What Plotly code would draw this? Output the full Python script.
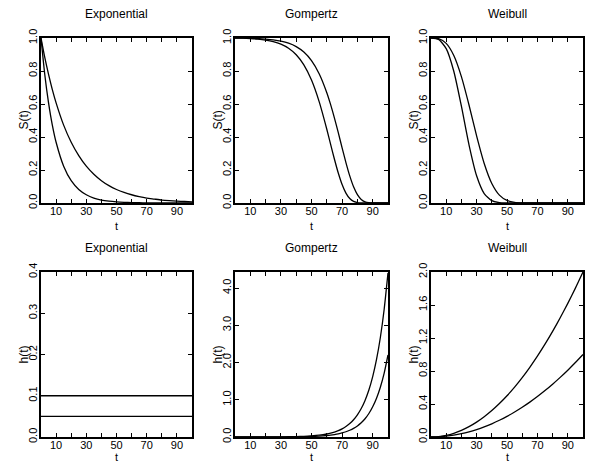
import plotly.graph_objects as go
from plotly.subplots import make_subplots

# ---- data ----
t_exp = [0, 2.5, 5, 7.5, 10, 15, 20, 25, 30, 35, 40, 45, 50, 55, 60, 65, 70, 75, 80, 85, 90, 95, 100]
exp_s_fast = [1, 0.779, 0.607, 0.472, 0.368, 0.223, 0.135, 0.082, 0.050, 0.030, 0.018, 0.011, 0.0067,
              0.0041, 0.0025, 0.0015, 0.0009, 0.0006, 0.0003, 0.0002, 0.0001, 0.0001, 0.0]
exp_s_slow = [1, 0.882, 0.779, 0.687, 0.607, 0.472, 0.368, 0.287, 0.223, 0.174, 0.135, 0.105, 0.082,
              0.064, 0.050, 0.039, 0.030, 0.024, 0.018, 0.014, 0.011, 0.009, 0.007]
t_line = [0, 100]
exp_h_fast = [0.1, 0.1]
exp_h_slow = [0.05, 0.05]

t_gom = [0, 5, 10, 15, 20, 25, 30, 35, 40, 45, 50, 55, 60, 62.5, 65, 67.5, 70, 72.5, 75, 77.5, 80,
         82.5, 85, 87.5, 90, 92.5, 95, 97.5, 100]
gom_s_fast = [1, 0.9987, 0.9966, 0.9931, 0.9873, 0.9779, 0.9625, 0.9378, 0.8983, 0.8369, 0.7447,
              0.6142, 0.4471, 0.3555, 0.2650, 0.1816, 0.1118, 0.0600, 0.0270, 0.0097, 0.0026,
              0.0005, 0.00005, 0.0, 0.0, 0.0, 0.0, 0.0, 0.0]
gom_s_slow = [1, 0.9994, 0.9983, 0.9965, 0.9936, 0.9889, 0.9811, 0.9684, 0.9478, 0.9148, 0.8630,
              0.7837, 0.6687, 0.5963, 0.5148, 0.4261, 0.3344, 0.2449, 0.1641, 0.0982, 0.0508,
              0.0218, 0.0073, 0.0018, 0.0003, 0.0, 0.0, 0.0, 0.0]
gom_h_fast = [0.0002, 0.0003, 0.0005, 0.0009, 0.0015, 0.0024, 0.0040, 0.0066, 0.0109, 0.018, 0.0297,
              0.0489, 0.0807, 0.1036, 0.133, 0.171, 0.219, 0.282, 0.362, 0.464, 0.596,
              0.765, 0.983, 1.262, 1.621, 2.081, 2.672, 3.431, 4.405]
gom_h_slow = [0.0001, 0.0002, 0.0003, 0.0005, 0.0007, 0.0012, 0.0020, 0.0033, 0.0055, 0.0090, 0.0148,
              0.0245, 0.0403, 0.0518, 0.0665, 0.0854, 0.110, 0.141, 0.181, 0.232, 0.298,
              0.383, 0.491, 0.631, 0.810, 1.040, 1.336, 1.715, 2.203]

t_wei = [0, 5, 10, 15, 20, 25, 30, 35, 40, 45, 50, 55, 60, 65, 70, 75, 80, 85, 90, 95, 100]
wei_s_fast = [1, 0.9917, 0.9355, 0.7985, 0.5866, 0.3529, 0.1653, 0.0574, 0.0140, 0.0023, 0.00024,
              0.00002, 0, 0, 0, 0, 0, 0, 0, 0, 0]
wei_s_slow = [1, 0.9958, 0.9672, 0.8936, 0.7659, 0.5941, 0.4066, 0.2395, 0.1185, 0.0480, 0.0155,
              0.0039, 0.00075, 0.0001, 0.00001, 0, 0, 0, 0, 0, 0]
wei_h_fast = [0, 0.005, 0.02, 0.045, 0.08, 0.125, 0.18, 0.245, 0.32, 0.405, 0.5, 0.605, 0.72, 0.845,
              0.98, 1.125, 1.28, 1.445, 1.62, 1.805, 2.0]
wei_h_slow = [0, 0.0025, 0.01, 0.0225, 0.04, 0.0625, 0.09, 0.1225, 0.16, 0.2025, 0.25, 0.3025, 0.36,
              0.4225, 0.49, 0.5625, 0.64, 0.7225, 0.81, 0.9025, 1.0]

titles = ["Exponential", "Gompertz", "Weibull"]
x_ticks = [10, 30, 50, 70, 90]
s_ticks = [0, 0.2, 0.4, 0.6, 0.8, 1.0]
h_exp_ticks = [0, 0.1, 0.2, 0.3, 0.4]
h_gom_ticks = [0, 1, 2, 3, 4]
h_wei_ticks = [0, 0.4, 0.8, 1.2, 1.6, 2.0]

# ---- figure ----
W, H = 591, 464
fig = make_subplots(rows=2, cols=3)

line = dict(color="black", width=1.3)
panels = [
    (1, 1, t_exp, [exp_s_fast, exp_s_slow]),
    (1, 2, t_gom, [gom_s_fast, gom_s_slow]),
    (1, 3, t_wei, [wei_s_fast, wei_s_slow]),
    (2, 1, t_line, [exp_h_fast, exp_h_slow]),
    (2, 2, t_gom, [gom_h_fast, gom_h_slow]),
    (2, 3, t_wei, [wei_h_fast, wei_h_slow]),
]
for r, c, tt, ys in panels:
    for y in ys:
        fig.add_trace(go.Scatter(x=tt, y=y, mode="lines", line=dict(line, shape="spline", smoothing=0.6),
                                 showlegend=False, hoverinfo="skip"), row=r, col=c)

xpix = [(41, 192), (235, 388), (431, 583)]
ypix = [(38, 203), (272, 437)]
fam = "Liberation Sans, Arial, sans-serif"
font = dict(family=fam, size=12, color="black")
tfont = dict(family=fam, size=11, color="black")

yconf = [
    [(s_ticks, [0, 1], ".1f"), (s_ticks, [0, 1], ".1f"), (s_ticks, [0, 1], ".1f")],
    [(h_exp_ticks, [0, 0.4], ".1f"), (h_gom_ticks, [0, 4.43], ".1f"), (h_wei_ticks, [0, 2.0], ".1f")],
]
ytitles = ["S(t)", "h(t)"]

for r in range(2):
    for c in range(3):
        idx = r * 3 + c + 1
        xa = "xaxis" if idx == 1 else f"xaxis{idx}"
        ya = "yaxis" if idx == 1 else f"yaxis{idx}"
        x0, x1 = xpix[c]
        y0, y1 = ypix[r]
        tv, rng, fmt = yconf[r][c]
        fig.layout[xa].update(
            domain=[x0 / W, x1 / W], range=[0, 100], tickvals=x_ticks, ticks="inside", ticklen=4,
            tickwidth=1, tickcolor="black", showline=True, linewidth=2, linecolor="black",
            mirror="allticks", showgrid=False, zeroline=False, automargin=False,
            tickfont=tfont, ticklabelstandoff=-3,
            minor=dict(tickvals=[0, 20, 40, 60, 80, 100], ticks="inside", ticklen=4, tickcolor="black"),
        )
        fig.layout[ya].update(
            domain=[1 - y1 / H, 1 - y0 / H], range=rng, tickvals=tv, tickformat=fmt, ticks="inside",
            ticklen=4, tickwidth=1, tickcolor="black", showline=True, linewidth=2, linecolor="black",
            mirror="allticks", showgrid=False, zeroline=False, automargin=False, tickangle=-90,
            tickfont=tfont, ticklabelstandoff=-2,
        )
        # panel title
        fig.add_annotation(text=titles[c], x=(x0 + x1) / 2 / W, y=1 - (y0 - 24) / H, xref="paper",
                           yref="paper", showarrow=False, font=font, xanchor="center", yanchor="middle")
        # x axis title
        if r == 0:
            fig.add_annotation(text="t", x=(x0 + x1) / 2 / W, y=1 - (y1 + 16) / H, xref="paper",
                               yref="paper", showarrow=False, font=tfont, xanchor="center",
                               yanchor="top", borderpad=0)
        else:
            fig.add_annotation(text="t", x=(x0 + x1) / 2 / W, y=0, xref="paper",
                               yref="paper", showarrow=False, font=tfont, xanchor="center",
                               yanchor="bottom", borderpad=0)
        # y axis title
        fig.add_annotation(text=ytitles[r], x=(x0 - 18) / W, y=1 - (y0 + y1) / 2 / H, xref="paper",
                           yref="paper", showarrow=False, font=font, textangle=-90,
                           xanchor="center", yanchor="middle")

fig.update_layout(width=W, height=H, margin=dict(l=0, r=0, t=0, b=0), paper_bgcolor="white",
                  plot_bgcolor="white", font=font)
fig.write_html("out.html")
